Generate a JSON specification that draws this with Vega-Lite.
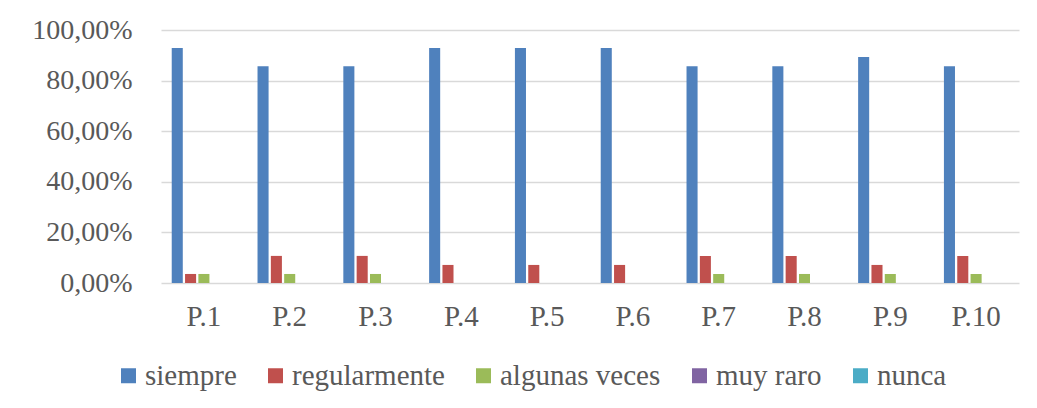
{
  "$schema": "https://vega.github.io/schema/vega-lite/v6.json",
  "width": 858,
  "height": 253,
  "autosize": {"type": "none"},
  "padding": {"left": 161, "top": 30, "right": 18, "bottom": 125},
  "background": "white",
  "data": {
    "values": [
      {"p": "P.1", "s": "siempre", "v": 0.9286}, {"p": "P.1", "s": "regularmente", "v": 0.0357}, {"p": "P.1", "s": "algunas veces", "v": 0.0357}, {"p": "P.1", "s": "muy raro", "v": 0}, {"p": "P.1", "s": "nunca", "v": 0},
      {"p": "P.2", "s": "siempre", "v": 0.8571}, {"p": "P.2", "s": "regularmente", "v": 0.1071}, {"p": "P.2", "s": "algunas veces", "v": 0.0357}, {"p": "P.2", "s": "muy raro", "v": 0}, {"p": "P.2", "s": "nunca", "v": 0},
      {"p": "P.3", "s": "siempre", "v": 0.8571}, {"p": "P.3", "s": "regularmente", "v": 0.1071}, {"p": "P.3", "s": "algunas veces", "v": 0.0357}, {"p": "P.3", "s": "muy raro", "v": 0}, {"p": "P.3", "s": "nunca", "v": 0},
      {"p": "P.4", "s": "siempre", "v": 0.9286}, {"p": "P.4", "s": "regularmente", "v": 0.0714}, {"p": "P.4", "s": "algunas veces", "v": 0}, {"p": "P.4", "s": "muy raro", "v": 0}, {"p": "P.4", "s": "nunca", "v": 0},
      {"p": "P.5", "s": "siempre", "v": 0.9286}, {"p": "P.5", "s": "regularmente", "v": 0.0714}, {"p": "P.5", "s": "algunas veces", "v": 0}, {"p": "P.5", "s": "muy raro", "v": 0}, {"p": "P.5", "s": "nunca", "v": 0},
      {"p": "P.6", "s": "siempre", "v": 0.9286}, {"p": "P.6", "s": "regularmente", "v": 0.0714}, {"p": "P.6", "s": "algunas veces", "v": 0}, {"p": "P.6", "s": "muy raro", "v": 0}, {"p": "P.6", "s": "nunca", "v": 0},
      {"p": "P.7", "s": "siempre", "v": 0.8571}, {"p": "P.7", "s": "regularmente", "v": 0.1071}, {"p": "P.7", "s": "algunas veces", "v": 0.0357}, {"p": "P.7", "s": "muy raro", "v": 0}, {"p": "P.7", "s": "nunca", "v": 0},
      {"p": "P.8", "s": "siempre", "v": 0.8571}, {"p": "P.8", "s": "regularmente", "v": 0.1071}, {"p": "P.8", "s": "algunas veces", "v": 0.0357}, {"p": "P.8", "s": "muy raro", "v": 0}, {"p": "P.8", "s": "nunca", "v": 0},
      {"p": "P.9", "s": "siempre", "v": 0.8929}, {"p": "P.9", "s": "regularmente", "v": 0.0714}, {"p": "P.9", "s": "algunas veces", "v": 0.0357}, {"p": "P.9", "s": "muy raro", "v": 0}, {"p": "P.9", "s": "nunca", "v": 0},
      {"p": "P.10", "s": "siempre", "v": 0.8571}, {"p": "P.10", "s": "regularmente", "v": 0.1071}, {"p": "P.10", "s": "algunas veces", "v": 0.0357}, {"p": "P.10", "s": "muy raro", "v": 0}, {"p": "P.10", "s": "nunca", "v": 0}
    ]
  },
  "mark": {"type": "bar"},
  "encoding": {
    "x": {
      "field": "p", "type": "nominal", "sort": null,
      "scale": {"paddingInner": 0.25, "paddingOuter": 0.125},
      "axis": {"title": null, "labelAngle": 0, "domain": false, "ticks": false, "labelPadding": 19,
               "labelFontSize": 29, "labelColor": "#595959"}
    },
    "xOffset": {
      "field": "s", "type": "nominal",
      "sort": ["siempre", "regularmente", "algunas veces", "muy raro", "nunca"],
      "scale": {"paddingInner": 0.17}
    },
    "y": {
      "field": "v", "type": "quantitative",
      "scale": {"domain": [0, 1], "nice": false},
      "axis": {"title": null, "values": [0, 0.2, 0.4, 0.6, 0.8, 1], "domain": false, "ticks": false,
               "labelPadding": 29, "labelExpr": "replace(format(datum.value, '.2%'), '.', ',')",
               "labelFontSize": 28, "labelColor": "#595959",
               "gridColor": "#d9d9d9", "gridWidth": 1.5}
    },
    "color": {
      "field": "s", "type": "nominal",
      "sort": ["siempre", "regularmente", "algunas veces", "muy raro", "nunca"],
      "scale": {"domain": ["siempre", "regularmente", "algunas veces", "muy raro", "nunca"],
                "range": ["#4F81BD", "#C0504D", "#9BBB59", "#8064A2", "#4BACC6"]},
      "legend": {"title": null, "orient": "none", "direction": "horizontal", "legendX": -47, "legendY": 331,
                 "padding": 0, "symbolType": "square", "symbolSize": 225, "symbolStrokeWidth": 0,
                 "labelFontSize": 29, "labelColor": "#595959", "labelLimit": 400,
                 "labelOffset": 2, "columnPadding": 24}
    }
  },
  "config": {"view": {"stroke": null}, "font": "Liberation Serif",
             "axis": {"labelFont": "Liberation Serif"}, "legend": {"labelFont": "Liberation Serif"}}
}
